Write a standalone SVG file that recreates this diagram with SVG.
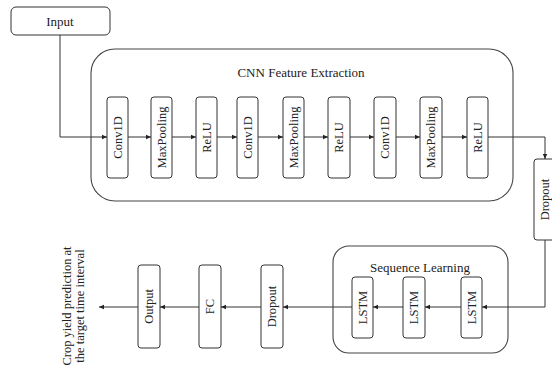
<svg xmlns="http://www.w3.org/2000/svg" width="552" height="369" viewBox="0 0 552 369">
<defs>
<marker id="ah" markerWidth="6" markerHeight="6" refX="5" refY="3" orient="auto" markerUnits="userSpaceOnUse">
<path d="M0,0.8 L5,3 L0,5.2 Z" fill="#222"/>
</marker>
<style>
.box{fill:#fff;stroke:#333;stroke-width:1}
.grp{fill:none;stroke:#444;stroke-width:1.1}
.lbl{font-family:"Liberation Serif","Times New Roman",serif;font-size:12.5px;fill:#222;text-anchor:middle;dominant-baseline:central}
.ttl{font-family:"Liberation Serif","Times New Roman",serif;font-size:13px;fill:#222;text-anchor:middle;dominant-baseline:central}
.c{fill:none;stroke:#333;stroke-width:1;marker-end:url(#ah)}
</style>
</defs>
<rect width="552" height="369" fill="#fff"/>

<g id="cnn-group">
<rect class="grp" x="91" y="49" width="422" height="152" rx="24"/>
<text class="ttl" x="301" y="72">CNN Feature Extraction</text>
</g>
<g id="seq-group">
<rect class="grp" x="333" y="246" width="175" height="107" rx="16"/>
<text class="ttl" x="420" y="267">Sequence Learning</text>
</g>

<g id="input"><rect class="box" x="11" y="7" width="99" height="28" rx="5"/><text class="ttl" x="60" y="21">Input</text></g>

<g id="conv1"><rect class="box" x="107" y="97" width="21" height="81" rx="3"/><text class="lbl" transform="translate(117.5,137.5) rotate(-90)">Conv1D</text></g>
<g id="pool1"><rect class="box" x="151" y="97" width="21" height="81" rx="3"/><text class="lbl" transform="translate(161.5,137.5) rotate(-90)">MaxPooling</text></g>
<g id="relu1"><rect class="box" x="196" y="97" width="21" height="81" rx="3"/><text class="lbl" transform="translate(206.5,137.5) rotate(-90)">ReLU</text></g>
<g id="conv2"><rect class="box" x="237" y="97" width="21" height="81" rx="3"/><text class="lbl" transform="translate(247.5,137.5) rotate(-90)">Conv1D</text></g>
<g id="pool2"><rect class="box" x="283" y="97" width="21" height="81" rx="3"/><text class="lbl" transform="translate(293.5,137.5) rotate(-90)">MaxPooling</text></g>
<g id="relu2"><rect class="box" x="328" y="97" width="22" height="81" rx="3"/><text class="lbl" transform="translate(339,137.5) rotate(-90)">ReLU</text></g>
<g id="conv3"><rect class="box" x="374" y="97" width="22" height="81" rx="3"/><text class="lbl" transform="translate(385,137.5) rotate(-90)">Conv1D</text></g>
<g id="pool3"><rect class="box" x="420" y="97" width="22" height="81" rx="3"/><text class="lbl" transform="translate(431,137.5) rotate(-90)">MaxPooling</text></g>
<g id="relu3"><rect class="box" x="467" y="97" width="21" height="81" rx="3"/><text class="lbl" transform="translate(477.5,137.5) rotate(-90)">ReLU</text></g>

<g id="dropout1"><rect class="box" x="534" y="159" width="26" height="81" rx="3"/><text class="lbl" transform="translate(545,199.5) rotate(-90)">Dropout</text></g>

<g id="lstm1"><rect class="box" x="461" y="277" width="21" height="61" rx="3"/><text class="lbl" transform="translate(471.5,307.5) rotate(-90)">LSTM</text></g>
<g id="lstm2"><rect class="box" x="403" y="277" width="22" height="61" rx="3"/><text class="lbl" transform="translate(414,307.5) rotate(-90)">LSTM</text></g>
<g id="lstm3"><rect class="box" x="352" y="277" width="21" height="61" rx="3"/><text class="lbl" transform="translate(362.5,307.5) rotate(-90)">LSTM</text></g>

<g id="dropout2"><rect class="box" x="261" y="265" width="22" height="83" rx="3"/><text class="lbl" transform="translate(272,306.5) rotate(-90)">Dropout</text></g>
<g id="fc"><rect class="box" x="199" y="265" width="22" height="83" rx="3"/><text class="lbl" transform="translate(210,306.5) rotate(-90)">FC</text></g>
<g id="output"><rect class="box" x="138" y="265" width="22" height="83" rx="3"/><text class="lbl" transform="translate(149,306.5) rotate(-90)">Output</text></g>

<g id="result"><text class="lbl" style="font-size:12.5px" transform="translate(73,306) rotate(-90)"><tspan x="0" dy="-6">Crop yield prediction at</tspan><tspan x="0" dy="12.5">the target time interval</tspan></text></g>

<g id="connectors">
<path class="c" d="M60,35 V137 H107"/>
<path class="c" d="M128,137 H151"/>
<path class="c" d="M172,137 H196"/>
<path class="c" d="M217,137 H237"/>
<path class="c" d="M258,137 H283"/>
<path class="c" d="M304,137 H328"/>
<path class="c" d="M350,137 H374"/>
<path class="c" d="M396,137 H420"/>
<path class="c" d="M442,137 H467"/>
<path class="c" d="M488,137 H545 V159"/>
<path class="c" d="M545,240 V307 H482"/>
<path class="c" d="M461,307 H425"/>
<path class="c" d="M403,307 H373"/>
<path class="c" d="M352,307 H283"/>
<path class="c" d="M261,307 H221"/>
<path class="c" d="M199,307 H160"/>
<path class="c" d="M138,307 H99"/>
</g>
</svg>
